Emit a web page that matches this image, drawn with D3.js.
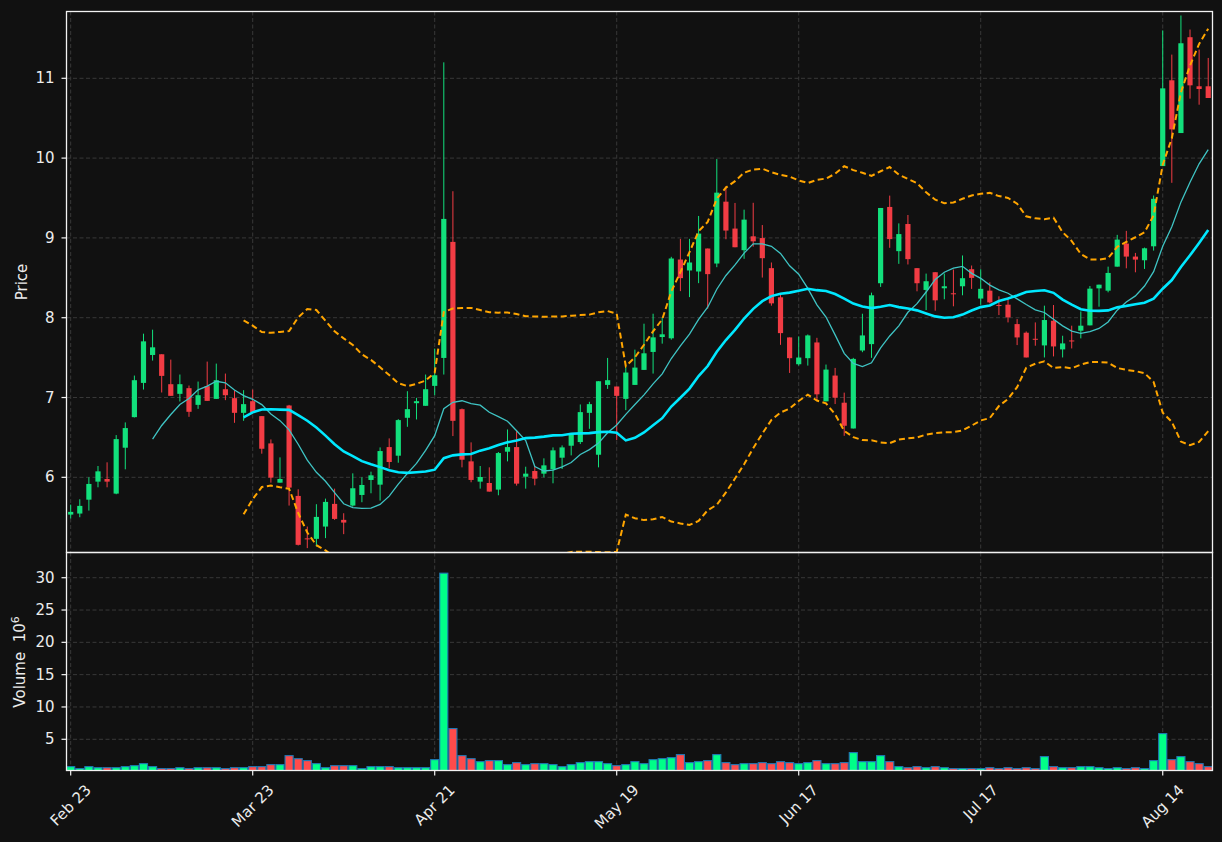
<!DOCTYPE html>
<html><head><meta charset="utf-8">
<script src="https://cdn.jsdelivr.net/npm/d3@7"></script>
<style>
html,body{margin:0;padding:0;background:#111111;}
svg{display:block;}
text{font-family:"DejaVu Sans",sans-serif;}
</style></head><body>
<svg id="chart" width="1222" height="842"></svg>
<script>
// ---- data ----
const opens=[5.533,5.546,5.72,5.946,5.979,5.796,6.371,6.754,7.183,7.533,7.542,7.167,7.046,7.117,6.908,7.142,6.983,7.104,6.992,6.808,
6.954,6.767,6.425,5.933,6.9,5.767,5.235,5.229,5.383,5.667,5.467,5.646,5.779,5.967,5.908,6.379,6.271,6.746,6.929,6.896,
7.146,7.496,8.95,6.854,6.2,5.946,5.929,5.846,6.321,6.379,6.008,6.079,6.046,6.1,6.246,6.396,6.442,6.808,6.283,7.158,
7.138,6.983,7.158,7.346,7.571,7.758,7.742,8.729,8.592,8.579,8.867,8.679,9.454,9.117,8.846,9.02,8.998,8.621,8.256,7.753,
7.417,7.493,7.69,6.952,7.275,6.935,6.612,7.589,7.669,8.432,9.388,8.834,9.174,8.621,8.348,8.57,8.369,8.306,8.394,8.608,
8.24,8.339,8.159,8.163,7.92,7.812,7.736,7.653,7.962,7.603,7.715,7.837,7.904,8.368,8.339,8.64,8.929,8.766,8.72,8.895,
9.9,10.975,10.314,11.515,10.9,10.9];
const highs=[5.658,5.725,6.0,6.142,6.188,6.529,6.688,7.275,7.8,7.85,7.542,7.475,7.288,7.15,7.2,7.45,7.425,7.3,7.092,7.092,
7.1,6.767,6.475,6.25,6.908,5.85,5.383,5.663,5.733,5.858,5.55,6.05,6.0,6.071,6.375,6.488,6.729,7.079,6.996,7.288,
7.613,11.2,9.585,6.862,6.438,6.142,6.125,6.317,6.6,6.579,6.133,6.142,6.238,6.375,6.4,6.554,6.913,6.946,7.204,7.496,
7.138,7.383,7.6,7.925,8.05,8.0,8.763,8.988,8.988,9.275,8.867,9.988,9.646,9.438,9.354,9.44,9.161,8.692,8.289,7.753,
7.765,7.79,7.748,7.413,7.371,7.061,7.497,8.05,8.314,9.375,9.53,9.182,9.287,8.621,8.553,8.57,8.553,8.604,8.78,8.654,
8.607,8.444,8.268,8.255,7.983,7.828,7.941,8.151,8.159,7.774,7.9,8.079,8.397,8.414,8.64,9.038,9.088,8.812,8.879,9.531,
11.6,11.297,11.787,11.611,11.36,11.255];
const lows=[5.483,5.5,5.583,5.875,5.875,5.788,6.1,6.75,7.1,7.463,7.063,7.021,6.95,6.758,6.858,6.958,6.983,6.967,6.683,6.708,
6.813,6.296,5.933,5.933,5.646,5.146,5.113,5.133,5.238,5.467,5.288,5.633,5.688,5.8,5.708,6.113,6.183,6.633,6.725,6.896,
7.029,7.288,6.517,6.125,5.938,5.858,5.821,5.775,6.2,5.896,5.858,5.9,6.0,5.925,6.104,6.275,6.417,6.608,6.125,7.108,
6.467,6.842,7.158,7.346,7.3,7.675,7.725,8.333,8.258,8.433,8.113,8.633,8.983,8.883,8.738,8.89,8.503,8.151,7.66,7.308,
7.4,7.4,6.96,6.952,6.918,6.52,6.612,7.568,7.497,8.386,8.876,8.675,8.667,8.331,8.096,8.088,8.231,8.143,8.281,8.361,
8.163,8.18,8.033,7.941,7.657,7.502,7.649,7.502,7.515,7.502,7.615,7.741,7.904,8.138,8.318,8.64,8.619,8.569,8.611,8.841,
9.9,9.69,10.314,10.745,10.669,10.753];
const closes=[5.567,5.642,5.917,6.075,5.946,6.479,6.617,7.217,7.704,7.629,7.271,7.021,7.167,6.821,7.029,6.958,7.217,7.029,6.808,6.917,
6.813,6.358,5.996,5.979,5.871,5.154,5.225,5.504,5.692,5.479,5.433,5.863,5.904,6.025,6.329,6.192,6.717,6.854,6.954,7.104,
7.279,9.238,6.708,6.221,5.967,6.004,5.821,6.304,6.379,5.921,6.046,5.983,6.15,6.338,6.375,6.542,6.817,6.917,7.204,7.217,
7.021,7.313,7.375,7.554,7.754,7.792,8.742,8.496,8.692,9.054,8.546,9.567,9.092,8.883,9.229,8.957,8.746,8.18,7.807,7.493,
7.501,7.778,7.04,7.35,6.998,6.646,7.484,7.778,8.281,9.375,8.985,9.048,8.734,8.432,8.457,8.218,8.394,8.298,8.495,8.499,
8.362,8.192,8.15,8.004,7.753,7.502,7.728,7.971,7.64,7.678,7.706,7.9,8.364,8.414,8.561,8.979,8.766,8.728,8.87,9.49,
10.874,10.36,11.439,10.912,10.866,10.753];
const volumes=[0.77,0.46,0.77,0.61,0.61,0.61,0.77,0.92,1.23,0.77,0.46,0.46,0.61,0.46,0.61,0.61,0.61,0.46,0.61,0.61,
0.77,0.77,1.08,1.08,2.47,2.0,1.7,1.23,0.61,0.92,0.92,0.92,0.46,0.77,0.77,0.77,0.61,0.61,0.61,0.61,
1.85,30.7,6.66,2.47,2.0,1.54,1.7,1.7,1.08,1.39,1.08,1.23,1.23,1.08,0.77,1.08,1.39,1.54,1.54,1.23,
0.92,1.08,1.54,1.23,1.85,2.0,2.16,2.63,1.39,1.54,1.7,2.63,1.39,1.08,1.23,1.23,1.39,1.23,1.54,1.39,
1.23,1.39,1.7,1.23,1.23,1.39,2.94,1.54,1.54,2.47,1.54,0.77,0.61,0.77,0.61,0.77,0.61,0.46,0.46,0.46,
0.46,0.61,0.46,0.61,0.46,0.61,0.46,2.32,0.77,0.61,0.61,0.77,0.77,0.61,0.46,0.61,0.46,0.61,0.46,1.7,
5.88,1.85,2.32,1.54,1.23,0.77];
const tickIndex=[0,20,40,60,80,100,120];
const tickLabels=["Feb 23","Mar 23","Apr 21","May 19","Jun 17","Jul 17","Aug 14"];
const priceTicks=[6,7,8,9,10,11];
const volumeTicks=[5,10,15,20,25,30];
const mavPeriods=[10,20];
const bbPeriod=20, bbK=2;

// ---- layout ----
const W=1222,H=842;
const L=66.5,R=1212.5,PT=11.5,PB=552.5,VT=552.5,VB=770.5;
const FS=15;
const bg="#111111", textCol="#ececec", spineCol="#f2f2f2", gridCol="#3d3d3d";
const upC="#12e07c", dnC="#f23c44", volUp="#00ff88", volDn="#ff4b4b", volEdge="#1f77b4";

const svg=d3.select("#chart");
svg.append("rect").attr("width",W).attr("height",H).attr("fill",bg);

const n=closes.length;
const x=d3.scaleLinear().domain([-0.46,125.47]).range([L,R]);
const y=d3.scaleLinear().domain([5.058,11.837]).range([PB,PT]);
const yv=d3.scaleLinear().domain([0.17,33.9]).range([VB,VT]);
const step=x(1)-x(0);

const defs=svg.append("defs");
defs.append("clipPath").attr("id","cp").append("rect").attr("x",L).attr("y",PT).attr("width",R-L).attr("height",PB-PT);
defs.append("clipPath").attr("id","cv").append("rect").attr("x",L).attr("y",VT).attr("width",R-L).attr("height",VB-VT);

// grids
const grid=svg.append("g").attr("stroke",gridCol).attr("stroke-width",0.9).attr("stroke-dasharray","4,2.5");
tickIndex.forEach(t=>{
  grid.append("line").attr("x1",x(t)).attr("x2",x(t)).attr("y1",PT).attr("y2",PB);
  grid.append("line").attr("x1",x(t)).attr("x2",x(t)).attr("y1",VT).attr("y2",VB);
});
priceTicks.forEach(v=>grid.append("line").attr("x1",L).attr("x2",R).attr("y1",y(v)).attr("y2",y(v)));
volumeTicks.forEach(v=>grid.append("line").attr("x1",L).attr("x2",R).attr("y1",yv(v)).attr("y2",yv(v)));

// candles
const cg=svg.append("g").attr("clip-path","url(#cp)");
const bw=step*0.57;
d3.range(n).forEach(i=>{
  const up=closes[i]>=opens[i];
  const c=up?upC:dnC;
  cg.append("line").attr("x1",x(i)).attr("x2",x(i)).attr("y1",y(highs[i])).attr("y2",y(lows[i]))
    .attr("stroke",c).attr("stroke-width",1);
  const top=y(Math.max(opens[i],closes[i])), bot=y(Math.min(opens[i],closes[i]));
  cg.append("rect").attr("x",x(i)-bw/2).attr("width",bw).attr("y",top).attr("height",Math.max(1,bot-top)).attr("fill",c);
});

// moving averages & bollinger
function sma(p){return closes.map((v,i)=>i<p-1?null:d3.mean(closes.slice(i-p+1,i+1)));}
function sd(p){return closes.map((v,i)=>{if(i<p-1)return null;const s=closes.slice(i-p+1,i+1);const m=d3.mean(s);return Math.sqrt(d3.mean(s,d=>(d-m)*(d-m)));});}
const ma10=sma(mavPeriods[0]), ma20=sma(mavPeriods[1]);
const mid=sma(bbPeriod), dev=sd(bbPeriod);
const upper=mid.map((m,i)=>m==null?null:m+bbK*dev[i]);
const lower=mid.map((m,i)=>m==null?null:m-bbK*dev[i]);
const line=d3.line().defined(d=>d!=null).x((d,i)=>x(i)).y(d=>y(d));
const lg=svg.append("g").attr("clip-path","url(#cp)").attr("fill","none");
lg.append("path").attr("d",line(upper)).attr("stroke","#ffa500").attr("stroke-width",2).attr("stroke-dasharray","6,3.5");
lg.append("path").attr("d",line(lower)).attr("stroke","#ffa500").attr("stroke-width",2).attr("stroke-dasharray","6,3.5");
lg.append("path").attr("d",line(ma10)).attr("stroke","#3fc4c4").attr("stroke-width",1.3);
lg.append("path").attr("d",line(ma20)).attr("stroke","#00e8ff").attr("stroke-width",2.6);

// volume bars
const vg=svg.append("g").attr("clip-path","url(#cv)");
d3.range(n).forEach(i=>{
  const up=closes[i]>=opens[i];
  vg.append("rect").attr("x",x(i)-step/2+0.5).attr("width",step-1).attr("y",yv(volumes[i])).attr("height",VB-yv(volumes[i])+2)
    .attr("fill",up?volUp:volDn).attr("stroke",volEdge).attr("stroke-width",1.1);
});

// spines
const sp=svg.append("g").attr("fill","none").attr("stroke",spineCol).attr("stroke-width",1.3);
sp.append("rect").attr("x",L).attr("y",PT).attr("width",R-L).attr("height",PB-PT);
sp.append("rect").attr("x",L).attr("y",VT).attr("width",R-L).attr("height",VB-VT);

// y ticks
const tk=svg.append("g");
function ytick(yy,label){
  tk.append("line").attr("x1",L-5).attr("x2",L).attr("y1",yy).attr("y2",yy).attr("stroke",spineCol).attr("stroke-width",1.2);
  tk.append("text").attr("x",L-12).attr("y",yy).attr("text-anchor","end").attr("dominant-baseline","central")
    .attr("fill",textCol).attr("font-size",FS).text(label);
}
priceTicks.forEach(v=>ytick(y(v),d3.format("d")(v)));
volumeTicks.forEach(v=>ytick(yv(v),d3.format("d")(v)));

// x ticks
tickIndex.forEach((t,k)=>{
  const tx=x(t);
  tk.append("line").attr("x1",tx).attr("x2",tx).attr("y1",VB).attr("y2",VB+5).attr("stroke",spineCol).attr("stroke-width",1.2);
  const g=tk.append("g");
  const tt=g.append("text").attr("text-anchor","middle").attr("dominant-baseline","central")
    .attr("fill",textCol).attr("font-size",FS).attr("transform","rotate(-45)").text(tickLabels[k]);
  const w=tt.node().getComputedTextLength(), h=FS*0.75;
  const bh=(w+h)*Math.SQRT1_2;
  g.attr("transform",`translate(${tx},${VB+13+bh/2})`);
});

// axis labels
svg.append("text").attr("transform","translate(27,282) rotate(-90)").attr("text-anchor","middle")
  .attr("fill",textCol).attr("font-size",FS).text("Price");
const vl=svg.append("text").attr("transform","translate(25,662) rotate(-90)").attr("text-anchor","middle")
  .attr("fill",textCol).attr("font-size",FS).style("white-space","pre").attr("xml:space","preserve");
vl.append("tspan").text("Volume  10");
vl.append("tspan").attr("dy",-6.5).attr("font-size",FS*0.72).text("6");
</script>
</body></html>
